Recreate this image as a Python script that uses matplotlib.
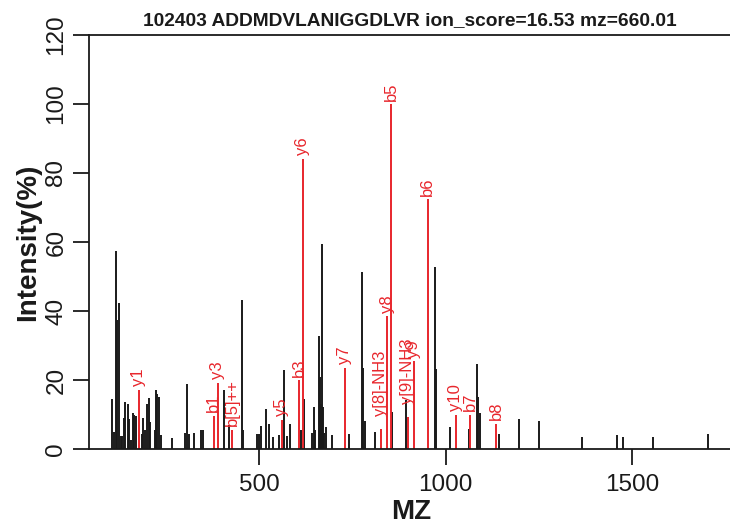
import matplotlib.pyplot as plt
import numpy as np

plt.rcParams['font.family'] = ['Liberation Sans', 'DejaVu Sans']

title = "102403 ADDMDVLANIGGDLVR ion_score=16.53 mz=660.01"

# unmatched peaks (black)
peak_mz = [104.6, 110.0, 115.4, 118.9, 122.5, 127.9, 131.5, 136.8, 140.4, 147.6,
           151.2, 154.8, 160.1, 163.7, 169.0, 185.1, 188.7, 194.1, 199.4, 203.0,
           206.6, 220.0, 222.7, 226.3, 229.9, 235.3, 264.8, 300.5, 305.0, 310.3,
           324.7, 343.4, 348.8, 405.2, 419.5, 452.6, 455.2, 494.6, 498.2, 505.3,
           517.0, 525.0, 535.7, 551.9, 566.2, 573.3, 583.1, 610.9, 619.8, 640.4,
           646.6, 650.2, 659.2, 662.7, 664.5, 667.2, 669.9, 674.3, 677.9, 694.9,
           739.7, 775.4, 779.0, 782.6, 810.3, 856.8, 892.6, 970.4, 973.1, 1011.5,
           1061.6, 1084.0, 1086.7, 1091.2, 1143.9, 1197.6, 1249.4, 1364.8, 1460.5,
           1474.8, 1556.2, 1703.8]
peak_int = [14.4, 4.9, 57.5, 37.4, 42.4, 3.7, 3.7, 9.1, 13.6, 13.1,
            8.8, 2.5, 10.4, 10.0, 9.5, 4.4, 9.1, 5.4, 12.9, 14.9,
            7.8, 5.4, 17.2, 16.0, 15.0, 4.0, 3.3, 4.6, 18.7, 4.4,
            4.6, 5.4, 5.4, 17.2, 7.1, 43.2, 5.4, 4.4, 4.3, 6.6,
            11.7, 7.3, 3.5, 4.0, 22.8, 3.9, 7.3, 5.6, 14.6, 4.6,
            12.2, 5.4, 32.7, 20.9, 13.0, 59.5, 12.2, 4.6, 6.4, 4.0,
            4.3, 51.3, 23.6, 8.1, 4.8, 10.7, 14.3, 52.8, 23.2, 6.4,
            5.9, 24.7, 15.0, 10.4, 4.3, 8.6, 8.0, 3.4, 4.2,
            3.6, 3.6, 4.3]

# matched fragment ions (red)
ion_mz = [176.2, 377.5, 389.0, 427.5, 560.8, 606.4, 616.2, 729.0, 826.4, 843.4,
          853.2, 898.8, 915.0, 951.6, 1027.6, 1065.2, 1135.0]
ion_int = [17.2, 9.6, 19.2, 5.6, 8.5, 19.9, 84.2, 23.6, 5.9, 38.5,
           100.0, 9.3, 25.4, 72.4, 10.0, 10.0, 7.3]
ion_lab = ["y1", "b1", "y3", "b[5]++", "y5", "b3", "y6", "y7", "y[8]-NH3", "y8",
           "b5", "y[9]-NH3", "y9", "b6", "y10", "b7", "b8"]

red = '#E8262C'

fig = plt.figure(figsize=(7.3, 5.29), dpi=100)
ax = fig.add_axes([89 / 730, 80 / 529, 641 / 730, 414 / 529])

ax.vlines(peak_mz, 0, peak_int, colors='#1a1a1a', linewidth=1.4)
ax.vlines(ion_mz, 0, ion_int, colors=red, linewidth=1.4)
for x, y, s in zip(ion_mz, ion_int, ion_lab):
    # NH3 losses sit a bit higher in the original
    dy = 9 if 'NH3' in s else 2.5
    ax.annotate(s, (x, y), xytext=(0, dy), textcoords='offset points',
                rotation=90, ha='center', va='bottom', color=red, fontsize=12)

ax.set_xlim(43, 1763)
ax.set_ylim(0, 120)
ax.spines['right'].set_visible(False)
for s in ['left', 'top', 'bottom']:
    ax.spines[s].set_linewidth(1.3)
    ax.spines[s].set_color('#1a1a1a')

ax.set_xticks([500, 1000, 1500])
ax.set_yticks(range(0, 121, 20))
ax.tick_params(axis='both', direction='out', length=11.5, width=1.3,
               labelsize=17.5, color='#1a1a1a', labelcolor='#1a1a1a')
ax.tick_params(axis='x', pad=6.5)
ax.tick_params(axis='y', pad=4, labelrotation=90)
for lab in ax.get_yticklabels():
    lab.set_verticalalignment('center')

fig.text(409.5 / 730, 1 - 21 / 529, title, ha='center', va='center',
         fontsize=13.8, fontweight='bold', color='#1a1a1a')
fig.text(411 / 730, 1 - 512 / 529, "MZ", ha='center', va='center',
         fontsize=20, fontweight='bold', color='#1a1a1a')
fig.text(28 / 730, 1 - 242 / 529, "Intensity(%)", ha='center', va='center',
         rotation=90, fontsize=20, fontweight='bold', color='#1a1a1a')

plt.savefig('out.png', dpi=100)
